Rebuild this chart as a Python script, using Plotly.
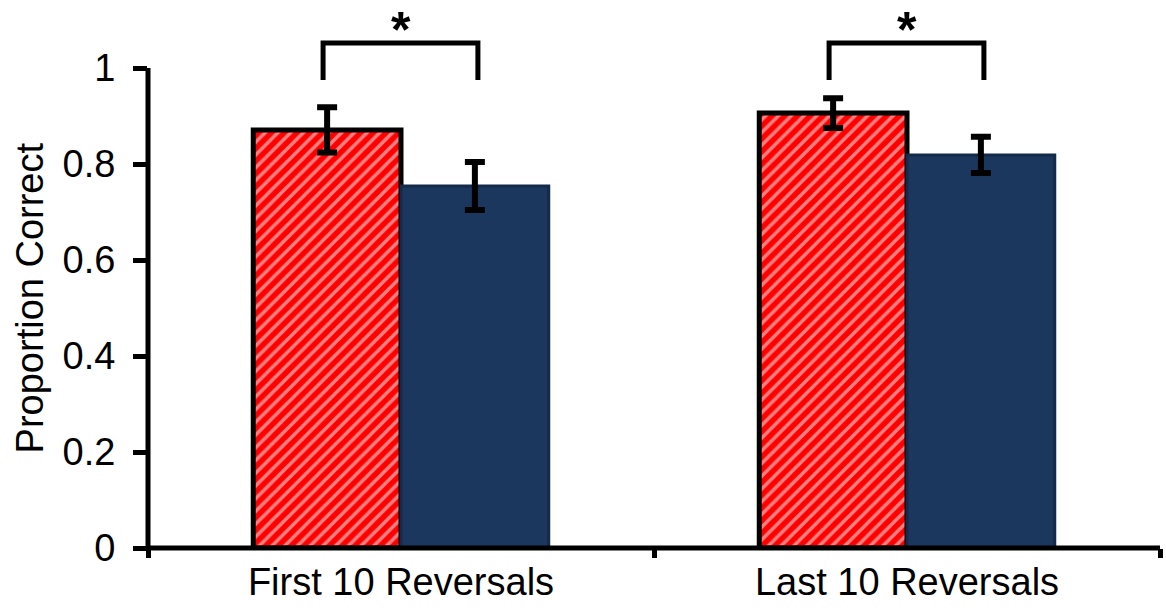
import plotly.graph_objects as go

categories = ["First 10 Reversals", "Last 10 Reversals"]
red_values = [0.871, 0.906]
red_errors = [0.047, 0.031]
blue_values = [0.754, 0.819]
blue_errors = [0.050, 0.038]
y_tick_values = [0, 0.2, 0.4, 0.6, 0.8, 1]
y_tick_labels = ["0", "0.2", "0.4", "0.6", "0.8", "1"]
significance_labels = ["*", "*"]
y_title = "Proportion Correct"

positions = list(range(len(categories)))
boundaries = [p - 0.5 for p in positions] + [positions[-1] + 0.5]

Y_MAX = 1.125
FONT = "Liberation Sans, Arial, sans-serif"
FS = 38

fig = go.Figure()
fig.add_trace(go.Bar(
    x=positions, y=red_values,
    error_y=dict(type="data", array=red_errors, color="black", thickness=6, width=10),
    marker=dict(color="#ff0000", line=dict(color="black", width=5),
                pattern=dict(shape="/", bgcolor="#ff0000", fgcolor="white",
                             size=9, solidity=0.4, fillmode="overlay")),
    showlegend=False,
))
fig.add_trace(go.Bar(
    x=positions, y=blue_values,
    error_y=dict(type="data", array=blue_errors, color="black", thickness=6, width=10),
    marker=dict(color="#1c375e", line=dict(color="#132a48", width=3)),
    showlegend=False,
))

# significance brackets
for p, lab in zip(positions, significance_labels):
    x0, x1 = p - 0.154, p + 0.152
    fig.add_shape(type="path", xref="x", yref="y",
                  path=f"M {x0},0.975 L {x0},1.052 L {x1},1.052 L {x1},0.975",
                  line=dict(color="black", width=5))
    fig.add_annotation(x=p, y=1.079, xref="x", yref="y", text=f"<b>{lab}</b>",
                       showarrow=False, font=dict(family=FONT, size=50, color="black"))

# y-axis title
fig.add_annotation(x=0, xref="paper", xanchor="center", xshift=-118, y=0.52, yref="y",
                   yanchor="middle", text=y_title, textangle=-90, showarrow=False,
                   font=dict(family=FONT, size=FS, color="black"))

# axis lines (y line stops at 1)
fig.add_shape(type="path", xref="paper", yref="paper",
              path=f"M 0,{1 / Y_MAX} L 0,0 L 1,0",
              line=dict(color="black", width=5))

fig.update_layout(
    width=1166, height=608,
    margin=dict(l=148, r=6, t=8, b=60),
    paper_bgcolor="white", plot_bgcolor="white",
    barmode="group", bargap=0.416, bargroupgap=0,
    font=dict(family=FONT, size=FS, color="black"),
    xaxis=dict(range=[-0.5, 1.5], tickvals=positions, ticktext=categories,
               ticks="outside", ticklen=0, showgrid=False, zeroline=False, showline=False,
               automargin=False,
               minor=dict(tickvals=boundaries, ticks="outside", ticklen=9, tickwidth=5,
                          tickcolor="black", showgrid=False),
               tickfont=dict(size=FS)),
    yaxis=dict(range=[0, Y_MAX], tickvals=y_tick_values, ticktext=y_tick_labels,
               ticks="outside", ticklen=14, tickwidth=5, tickcolor="black",
               showgrid=False, zeroline=False, showline=False, automargin=False,
               ticklabelstandoff=10,
               tickfont=dict(size=FS)),
)

fig.write_html("out.html", config={"displayModeBar": False},
               post_script="document.body.style.margin='0px';")
